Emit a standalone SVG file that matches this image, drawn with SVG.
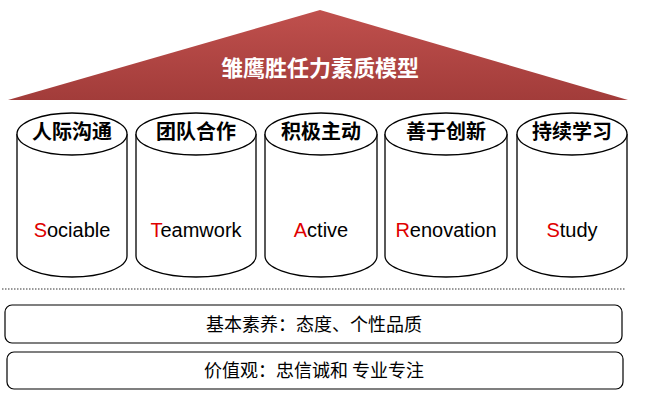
<svg xmlns="http://www.w3.org/2000/svg" width="649" height="405" viewBox="0 0 649 405">
<defs>
<linearGradient id="rg" x1="0" y1="0" x2="0" y2="1"><stop offset="0" stop-color="#c0504d"/><stop offset="1" stop-color="#a23c3a"/></linearGradient>
<style>
.cy{fill:#fff;stroke:#000;stroke-width:1.3}
.h{font-family:"Noto Sans CJK SC",sans-serif;font-weight:bold;font-size:20px;text-anchor:middle}
.e{font-family:"Liberation Sans",sans-serif;font-size:20px;text-anchor:middle}
.r{fill:#e00000}
.b{fill:#fff;stroke:#000;stroke-width:1.2}
.t{font-family:"Noto Sans CJK SC",sans-serif;font-size:18px;text-anchor:middle}
</style>
</defs>
<rect width="649" height="405" fill="#fff"/>
<g id="roof"><polygon points="320,10 8,100 628,100" fill="url(#rg)"/>
<text x="320" y="76" fill="#fff" style="font-family:'Noto Sans CJK SC',sans-serif;font-weight:bold;font-size:22px;text-anchor:middle">雏鹰胜任力素质模型</text></g>
<g id="c1"><path class="cy" d="M17,134 V256 A55,21 0 0 0 127,256 V134"/><ellipse class="cy" cx="72" cy="134" rx="55" ry="21"/><text class="h" x="72" y="139">人际沟通</text><text class="e" x="72" y="237"><tspan class="r">S</tspan>ociable</text></g>
<g id="c2"><path class="cy" d="M136,134 V256 A60,21 0 0 0 256,256 V134"/><ellipse class="cy" cx="196" cy="134" rx="60" ry="21"/><text class="h" x="196" y="139">团队合作</text><text class="e" x="196" y="237"><tspan class="r">T</tspan>eamwork</text></g>
<g id="c3"><path class="cy" d="M265,134 V256 A56,21 0 0 0 377,256 V134"/><ellipse class="cy" cx="321" cy="134" rx="56" ry="21"/><text class="h" x="321" y="139">积极主动</text><text class="e" x="321" y="237"><tspan class="r">A</tspan>ctive</text></g>
<g id="c4"><path class="cy" d="M385,134 V256 A61,21 0 0 0 507,256 V134"/><ellipse class="cy" cx="446" cy="134" rx="61" ry="21"/><text class="h" x="446" y="139">善于创新</text><text class="e" x="446" y="237"><tspan class="r">R</tspan>enovation</text></g>
<g id="c5"><path class="cy" d="M517,134 V256 A55,21 0 0 0 627,256 V134"/><ellipse class="cy" cx="572" cy="134" rx="55" ry="21"/><text class="h" x="572" y="139">持续学习</text><text class="e" x="572" y="237"><tspan class="r">S</tspan>tudy</text></g>
<line x1="2" y1="289" x2="626" y2="289" stroke="#777" stroke-width="1.5" stroke-dasharray="1.5,1.5"/>
<g id="box1"><rect class="b" x="5" y="305" width="617" height="38" rx="7"/><text class="t" x="314" y="331">基本素养：态度、个性品质</text></g>
<g id="box2"><rect class="b" x="7" y="352" width="616" height="37" rx="7"/><text class="t" x="314" y="377">价值观：忠信诚和  专业专注</text></g>
</svg>
